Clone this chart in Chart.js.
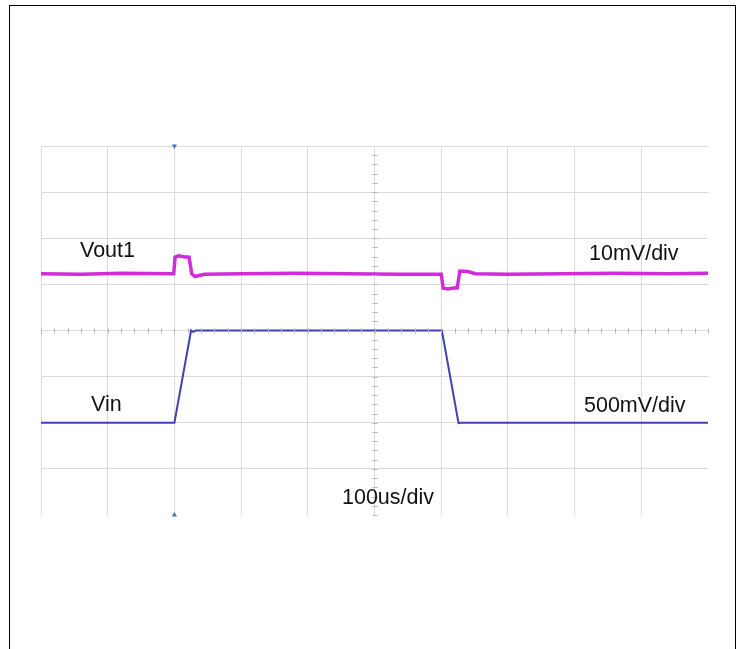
<!DOCTYPE html>
<html>
<head>
<meta charset="utf-8">
<script src="https://cdn.jsdelivr.net/npm/chart.js@4/dist/chart.umd.min.js"></script>
<style>
  html, body { margin: 0; padding: 0; background: #fff; }
  #wrap { position: relative; width: 737px; height: 649px; overflow: hidden; }
  #frame { position: absolute; left: 9px; top: 5px; width: 727px; height: 660px; border: 1px solid #000; box-sizing: border-box; }
  canvas { position: absolute; left: 0; top: 0; }
  .lbl { position: absolute; font-family: "Liberation Sans", Arial, sans-serif; font-size: 21.5px; line-height: 21px; color: #111; white-space: nowrap; }
</style>
</head>
<body>
<div id="wrap">
  <canvas id="scope" width="737" height="649"></canvas>
  <div id="frame"></div>
  <div class="lbl" style="left:80px; top:240px;">Vout1</div>
  <div class="lbl" style="left:589px; top:243px;">10mV/div</div>
  <div class="lbl" style="left:91px; top:394px;">Vin</div>
  <div class="lbl" style="left:584px; top:395px;">500mV/div</div>
  <div class="lbl" style="left:342px; top:487px;">100us/div</div>
</div>
<script>
// time in us, level in screen divisions (0 = bottom of the graticule)
const vout1Time = [0, 60, 120, 199, 201, 206, 214, 222, 226, 231, 245, 300, 380, 460, 540, 600, 603, 610, 618, 624, 628, 640, 651, 700, 780, 860, 940, 1000];
const vout1Level = [5.23, 5.22, 5.24, 5.23, 5.59, 5.62, 5.60, 5.59, 5.23, 5.17, 5.22, 5.23, 5.24, 5.23, 5.22, 5.22, 4.92, 4.90, 4.92, 4.92, 5.29, 5.28, 5.23, 5.22, 5.23, 5.24, 5.23, 5.24];

const vinTime = [0, 200, 225, 228, 232, 601, 626, 630, 1000];
const vinLevel = [2, 2, 4, 3.97, 4, 4, 1.99, 2, 2];

const triggerTime = [200, 200];
const triggerLevel = [8, 0];

const toPoints = (xs, ys) => xs.map((x, i) => ({ x: x, y: ys[i] }));

// scope style crosshair: small ticks along the centre lines
const crosshair = {
  id: 'crosshair',
  afterDraw(chart) {
    const ctx = chart.ctx;
    const xs = chart.scales.x, ys = chart.scales.y;
    const cx = xs.getPixelForValue(500), cy = ys.getPixelForValue(4);
    ctx.save();
    ctx.strokeStyle = '#b5b5b5';
    ctx.lineWidth = 1;
    ctx.beginPath();
    for (let v = 0; v <= 8; v += 0.2) {
      const py = Math.round(ys.getPixelForValue(v)) + 0.5;
      ctx.moveTo(cx - 2, py);
      ctx.lineTo(cx + 3, py);
    }
    for (let t = 0; t <= 1000; t += 20) {
      const px = Math.round(xs.getPixelForValue(t)) + 0.5;
      ctx.moveTo(px, cy - 2);
      ctx.lineTo(px, cy + 3);
    }
    ctx.stroke();
    ctx.restore();
  }
};

const ctx = document.getElementById('scope').getContext('2d');
new Chart(ctx, {
  type: 'line',
  data: {
    datasets: [
      {
        label: 'Vout1',
        data: toPoints(vout1Time, vout1Level),
        borderColor: 'rgba(204, 20, 214, 0.9)',
        borderWidth: 3.5,
        pointRadius: 0,
        tension: 0,
        fill: false
      },
      {
        label: 'Vin',
        data: toPoints(vinTime, vinLevel),
        borderColor: '#4240b5',
        borderWidth: 2,
        pointRadius: 0,
        tension: 0,
        fill: false
      },
      {
        label: 'trigger',
        data: toPoints(triggerTime, triggerLevel),
        showLine: false,
        pointStyle: 'triangle',
        rotation: [180, 0],
        pointRadius: 3,
        backgroundColor: '#3a78d0',
        borderWidth: 0,
        clip: false
      }
    ]
  },
  options: {
    responsive: false,
    animation: false,
    layout: { padding: { left: 41, top: 146, right: 29, bottom: 134 } },
    plugins: { legend: { display: false }, tooltip: { enabled: false } },
    scales: {
      x: {
        type: 'linear',
        min: 0,
        max: 1000,
        ticks: { display: false, stepSize: 100 },
        border: { display: false },
        grid: {
          drawTicks: false,
          color: c => c.tick.value === 1000 ? 'rgba(0,0,0,0)' : '#dadada'
        }
      },
      y: {
        type: 'linear',
        min: 0,
        max: 8,
        ticks: { display: false, stepSize: 1 },
        border: { display: false },
        grid: {
          drawTicks: false,
          color: c => c.tick.value === 0 ? 'rgba(0,0,0,0)' : '#dadada'
        }
      }
    }
  },
  plugins: [crosshair]
});
</script>
</body>
</html>
